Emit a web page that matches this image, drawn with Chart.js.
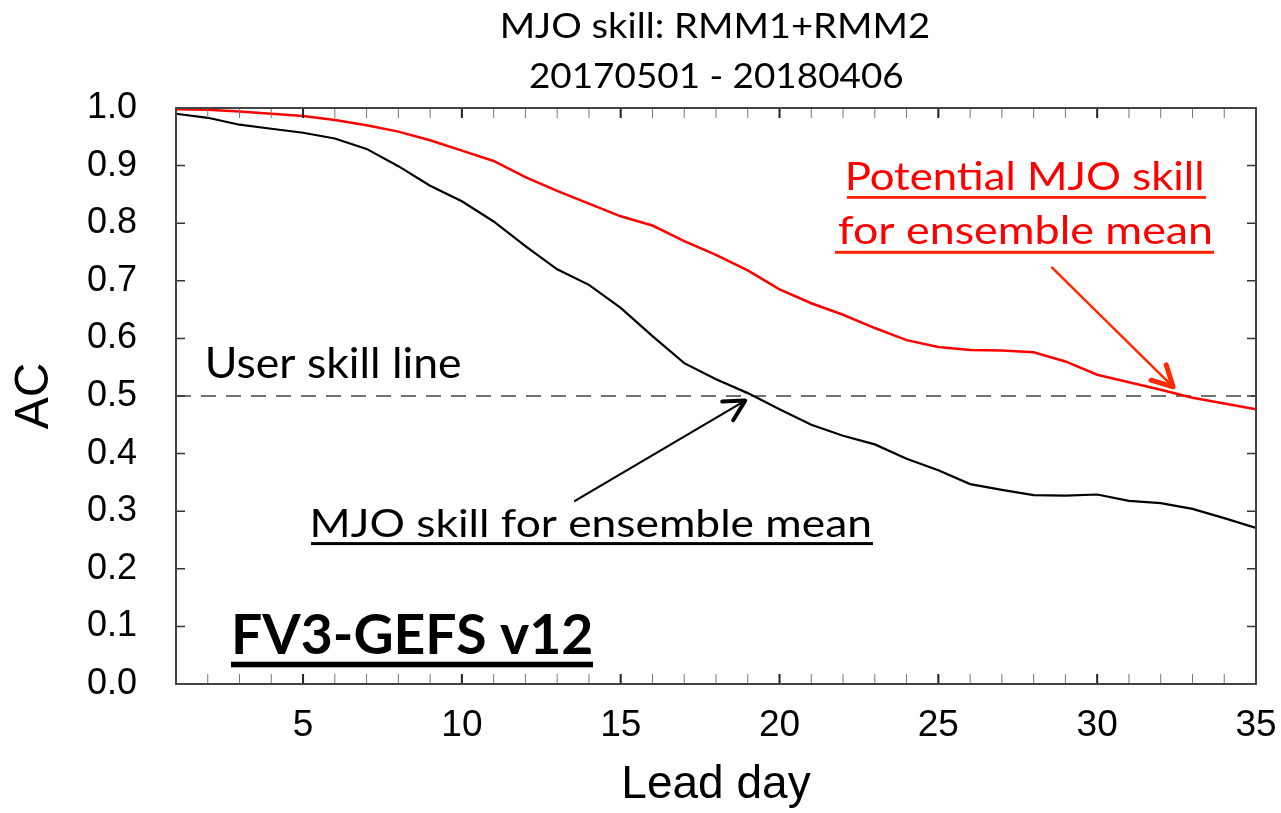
<!DOCTYPE html>
<html>
<head>
<meta charset="utf-8">
<script src="https://cdn.jsdelivr.net/npm/chart.js@4.4.1/dist/chart.umd.min.js"></script>
<style>
  html, body { margin: 0; padding: 0; background: #fff; }
  #wrap { width: 1281px; height: 813px; }
</style>
</head>
<body>
<div id="wrap"><canvas id="skill" width="1281" height="813"></canvas></div>
<script>
// lead days 1..35
const leadDays = [1, 2, 3, 4, 5, 6, 7, 8, 9, 10, 11, 12, 13, 14, 15, 16, 17, 18,
    19, 20, 21, 22, 23, 24, 25, 26, 27, 28, 29, 30, 31, 32, 33, 34, 35];

// AC of the ensemble mean (black)
const meanSkill = [0.990, 0.983, 0.971, 0.964, 0.957, 0.947, 0.929, 0.899, 0.865, 0.838,
    0.803, 0.760, 0.720, 0.693, 0.653, 0.604, 0.557, 0.529, 0.505, 0.477,
    0.450, 0.431, 0.416, 0.391, 0.371, 0.347, 0.337, 0.328, 0.327, 0.329,
    0.318, 0.314, 0.304, 0.288, 0.271];

// potential AC (red)
const potentialSkill = [0.998, 0.997, 0.994, 0.990, 0.986, 0.979, 0.970, 0.959, 0.944, 0.926,
    0.908, 0.880, 0.856, 0.834, 0.812, 0.796, 0.769, 0.745, 0.718, 0.685,
    0.661, 0.641, 0.618, 0.597, 0.585, 0.580, 0.579, 0.576, 0.560, 0.537,
    0.524, 0.511, 0.497, 0.487, 0.477];

const userSkill = 0.5;
const xTickLabels = [5, 10, 15, 20, 25, 30, 35];
const yTickValues = [0, 0.1, 0.2, 0.3, 0.4, 0.5, 0.6, 0.7, 0.8, 0.9, 1.0];

const toPoints = (ys) => leadDays.map((d, i) => ({ x: d, y: ys[i] }));

// draws a text so its ink spans [left, right] with a given cap height
function fitText(ctx, t) {
    const family = 'Lato, "Open Sans", sans-serif';
    const weight = t.bold ? 'bold ' : '';
    ctx.save();
    ctx.font = weight + '100px ' + family;
    const capRatio = ctx.measureText('H').actualBoundingBoxAscent / 100;
    const size = t.cap / capRatio;
    ctx.font = weight + size.toFixed(2) + 'px ' + family;
    const m = ctx.measureText(t.text);
    const inkW = m.actualBoundingBoxLeft + m.actualBoundingBoxRight;
    const sx = (t.right - t.left) / inkW;
    ctx.fillStyle = t.color || '#000';
    ctx.textAlign = 'left';
    ctx.textBaseline = 'alphabetic';
    ctx.translate(t.left + m.actualBoundingBoxLeft * sx, t.base);
    ctx.scale(sx, 1);
    ctx.fillText(t.text, 0, 0);
    ctx.restore();
    if (t.underline) {
        const u = t.underline;
        ctx.fillStyle = u.color || t.color || '#000';
        ctx.fillRect(u.x1, u.y - u.th / 2, u.x2 - u.x1, u.th);
    }
}

function drawArrow(ctx, x0, y0, x1, y1, color, width, headLen, headW) {
    const ang = Math.atan2(y1 - y0, x1 - x0);
    const spread = 28 * Math.PI / 180;
    ctx.save();
    ctx.strokeStyle = color;
    ctx.lineCap = 'round';
    ctx.lineWidth = width;
    ctx.beginPath();
    ctx.moveTo(x0, y0);
    ctx.lineTo(x1, y1);
    ctx.stroke();
    ctx.lineWidth = headW;
    ctx.lineJoin = 'round';
    ctx.beginPath();
    ctx.moveTo(x1 - headLen * Math.cos(ang - spread), y1 - headLen * Math.sin(ang - spread));
    ctx.lineTo(x1, y1);
    ctx.lineTo(x1 - headLen * Math.cos(ang + spread), y1 - headLen * Math.sin(ang + spread));
    ctx.stroke();
    ctx.restore();
}

const framePlugin = {
    id: 'frame',
    afterDraw(chart) {
        const { ctx, chartArea: a, scales: { x, y } } = chart;
        ctx.save();
        // inward ticks on all four sides
        leadDays.forEach((d) => {
            const px = x.getPixelForValue(d);
            const major = d % 5 === 0;
            ctx.strokeStyle = major ? '#222' : '#777';
            ctx.lineWidth = major ? 2 : 1;
            ctx.beginPath();
            ctx.moveTo(px, a.bottom);
            ctx.lineTo(px, a.bottom - 10);
            ctx.moveTo(px, a.top);
            ctx.lineTo(px, a.top + 10);
            ctx.stroke();
        });
        ctx.strokeStyle = '#333';
        ctx.lineWidth = 1.5;
        yTickValues.forEach((v) => {
            const py = y.getPixelForValue(v);
            ctx.beginPath();
            ctx.moveTo(a.left, py);
            ctx.lineTo(a.left + 9, py);
            ctx.moveTo(a.right, py);
            ctx.lineTo(a.right - 9, py);
            ctx.stroke();
        });
        ctx.strokeStyle = '#444';
        ctx.lineWidth = 2;
        ctx.strokeRect(a.left, a.top, a.right - a.left, a.bottom - a.top);
        ctx.restore();

        // annotations
        const texts = [
            { text: 'MJO skill: RMM1+RMM2', left: 503, right: 928, base: 38, cap: 25 },
            { text: '20170501 - 20180406', left: 530, right: 903, base: 88, cap: 26 },
            { text: 'Potential MJO skill', left: 848, right: 1202, base: 190, cap: 28.5, color: '#ff0000',
              underline: { x1: 847, x2: 1206, y: 197.4, th: 2.8, color: '#ff2200' } },
            { text: 'for ensemble mean', left: 838, right: 1211, base: 244, cap: 28.5, color: '#ff0000',
              underline: { x1: 835, x2: 1214, y: 252.3, th: 3, color: '#ff2200' } },
            { text: 'User skill line', left: 208, right: 460, base: 378.3, cap: 31 },
            { text: 'MJO skill for ensemble mean', left: 313, right: 870, base: 536.7, cap: 28.4,
              underline: { x1: 311, x2: 873, y: 543.6, th: 3 } },
            { text: 'FV3-GEFS v12', bold: true, left: 235, right: 591, base: 654, cap: 40.7,
              underline: { x1: 231, x2: 593, y: 664.5, th: 5.6 } },
        ];
        texts.forEach((t) => fitText(ctx, t));

        // arrows, in data coordinates
        drawArrow(ctx, x.getPixelForValue(13.56), y.getPixelForValue(0.318),
            x.getPixelForValue(18.92), y.getPixelForValue(0.492), '#000', 2.2, 23, 4);
        drawArrow(ctx, x.getPixelForValue(28.58), y.getPixelForValue(0.723),
            x.getPixelForValue(32.39), y.getPixelForValue(0.516), '#ff2a00', 2.5, 23, 5);
    },
};

const ctx = document.getElementById('skill');
new Chart(ctx, {
    type: 'line',
    data: {
        datasets: [
            {
                label: 'MJO skill for ensemble mean',
                data: toPoints(meanSkill),
                borderColor: '#000',
                borderWidth: 2.2,
                pointRadius: 0,
                tension: 0,
            },
            {
                label: 'Potential MJO skill',
                data: toPoints(potentialSkill),
                borderColor: '#ff0000',
                borderWidth: 2.5,
                pointRadius: 0,
                tension: 0,
            },
            {
                label: 'User skill line',
                data: [{ x: leadDays[0], y: userSkill }, { x: leadDays[leadDays.length - 1], y: userSkill }],
                borderColor: '#444',
                borderWidth: 1.6,
                borderDash: [15, 10],
                pointRadius: 0,
            },
        ],
    },
    options: {
        responsive: false,
        animation: false,
        devicePixelRatio: 1,
        layout: { padding: { top: 108, right: 25, left: 0, bottom: 0 } },
        plugins: { legend: { display: false }, tooltip: { enabled: false } },
        scales: {
            x: {
                type: 'linear',
                min: 1,
                max: 35,
                afterBuildTicks: (s) => { s.ticks = xTickLabels.map((v) => ({ value: v })); },
                afterFit: (s) => {
                    s.height = 129;
                    // keep the edge label from pushing the plot in
                    s.paddingLeft = 0;
                    s.paddingRight = 0;
                },
                grid: { display: false, drawTicks: false },
                border: { display: false },
                ticks: {
                    autoSkip: false,
                    maxRotation: 0,
                    padding: 20,
                    color: '#000',
                    font: { family: '"Liberation Sans", Arial, sans-serif', size: 37 },
                },
                title: {
                    display: true,
                    text: 'Lead day',
                    color: '#000',
                    padding: 0,
                    font: { family: '"Liberation Sans", Arial, sans-serif', size: 46, lineHeight: 1.2 },
                },
            },
            y: {
                min: 0,
                max: 1,
                afterBuildTicks: (s) => { s.ticks = yTickValues.map((v) => ({ value: v })); },
                afterFit: (s) => {
                    s.width = 176;
                    s.paddingTop = 0;
                    s.paddingBottom = 0;
                },
                grid: { display: false, drawTicks: false },
                border: { display: false },
                ticks: {
                    padding: 39,
                    color: '#000',
                    callback: (v) => Number(v).toFixed(1),
                    font: { family: '"Liberation Sans", Arial, sans-serif', size: 36 },
                },
                title: {
                    display: true,
                    text: 'AC',
                    color: '#000',
                    padding: { top: 6, bottom: 0 },
                    font: { family: '"Liberation Sans", Arial, sans-serif', size: 48, lineHeight: 1.2 },
                },
            },
        },
    },
    plugins: [framePlugin],
});
</script>
</body>
</html>
